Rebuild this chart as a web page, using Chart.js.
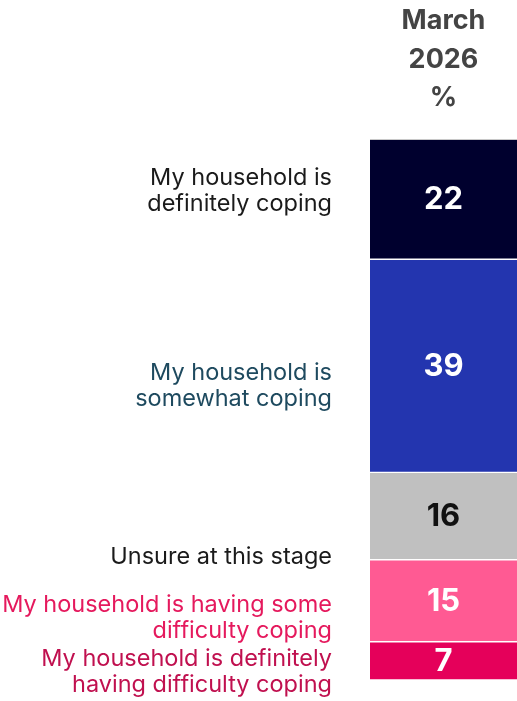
<!DOCTYPE html>
<html>
<head>
<meta charset="utf-8">
<script src="https://cdn.jsdelivr.net/npm/chart.js@4"></script>
<style>
  html, body { margin: 0; padding: 0; background: #fff; }
  #wrap { position: relative; width: 517px; height: 701px; }
</style>
</head>
<body>
<div id="wrap"><canvas id="chart" width="517" height="701"></canvas></div>
<script>
const periods = ['March 2026'];
const headerLines = ['March', '2026', '%'];
const categories = [
  ['My household is', 'definitely coping'],
  ['My household is', 'somewhat coping'],
  ['Unsure at this stage'],
  ['My household is having some', 'difficulty coping'],
  ['My household is definitely', 'having difficulty coping'],
];
const values = [22, 39, 16, 15, 7];

const barColors = ['#00002e', '#2335af', '#c0c0c0', '#ff5a93', '#e5005a'];
const valueColors = ['#ffffff', '#ffffff', '#111111', '#ffffff', '#ffffff'];
const labelColors = ['#1a1a1a', '#1e4a5f', '#1a1a1a', '#e5195d', '#c0104f'];
// small vertical nudges (px) so the side labels sit like the original
const labelNudge = [-8, 20, 41, 17, 11];

const total = values.reduce((a, b) => a + b, 0);

const sideLabels = {
  id: 'sideLabels',
  afterDatasetsDraw(chart) {
    const ctx = chart.ctx;
    const area = chart.chartArea;
    const xs = chart.scales.x;
    const cx = xs.getPixelForValue(0);

    // header above the bar
    ctx.save();
    ctx.fillStyle = '#444444';
    ctx.font = 'bold 27px Inter';
    ctx.textAlign = 'center';
    ctx.textBaseline = 'middle';
    headerLines.forEach((t, i) => ctx.fillText(t, cx, 21 + i * 38.5));

    // thin rule on top of the bar
    ctx.strokeStyle = '#c8c8c8';
    ctx.lineWidth = 1;
    ctx.beginPath();
    ctx.moveTo(area.left, area.top + 0.5);
    ctx.lineTo(area.right, area.top + 0.5);
    ctx.stroke();

    chart.data.datasets.forEach((ds, i) => {
      const bar = chart.getDatasetMeta(i).data[0];
      const mid = (bar.y + bar.base) / 2;

      ctx.fillStyle = valueColors[i];
      ctx.font = 'bold 31px Inter';
      ctx.textAlign = 'center';
      ctx.fillText(String(ds.data[0]), bar.x, mid + 1);

      const lines = categories[i];
      const lh = 25.5;
      const y0 = mid + labelNudge[i] - (lines.length - 1) * lh / 2;
      ctx.fillStyle = labelColors[i];
      ctx.font = '23.5px Inter';
      ctx.textAlign = 'right';
      lines.forEach((t, j) => ctx.fillText(t, 332, y0 + j * lh));
    });
    ctx.restore();
  },
};

new Chart(document.getElementById('chart'), {
  type: 'bar',
  data: {
    labels: periods,
    datasets: values.map((v, i) => ({
      label: categories[i].join(' '),
      data: [v],
      backgroundColor: barColors[i],
      borderColor: '#ffffff',
      borderWidth: { top: 1, bottom: 1, left: 0, right: 0 },
      borderSkipped: false,
      categoryPercentage: 1,
      barPercentage: 1,
    })),
  },
  options: {
    responsive: false,
    animation: false,
    layout: { padding: { left: 370, right: 0, top: 139, bottom: 21 } },
    scales: {
      x: { stacked: true, display: false },
      y: { stacked: true, display: false, reverse: true, min: 0, max: total },
    },
    plugins: {
      legend: { display: false },
      tooltip: { enabled: false },
    },
  },
  plugins: [sideLabels],
});
</script>
</body>
</html>
